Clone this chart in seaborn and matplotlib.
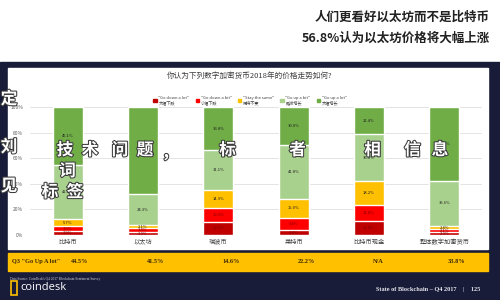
import numpy as np
import pandas as pd
import seaborn as sns
import matplotlib.pyplot as plt
import matplotlib.patheffects as pe
from matplotlib.patches import Rectangle, Patch
from matplotlib.transforms import blended_transform_factory

# ---- data ----
coins = ['比特币', '以太坊', '瑞波币', '莱特币', '比特币现金', '整体数字加密货币']
down_lot = [2.9, 2.0, 10.3, 3.8, 10.8, 2.3]
down_bit = [3.9, 3.4, 10.5, 9.4, 12.8, 2.1]
same = [5.7, 2.1, 14.3, 15.0, 18.2, 2.4]
up_bit = [42.4, 24.3, 31.1, 41.8, 36.8, 35.6]
up_lot = [45.1, 68.2, 33.8, 30.0, 21.4, 57.6]
q3_up_lot = ['44.5%', '41.5%', '14.6%', '22.2%', 'N/A', '33.8%']

layers = ['"Go down a lot"', '"Go down a bit"', '"Stay the same"', '"Go up a bit"', '"Go up a lot"']
layers_cn = ['大幅下跌', '小幅下跌', '保持不变', '略微增长', '大幅增长']
colors = ['#c00000', '#ff0000', '#ffc000', '#a9d18e', '#70ad47']
navy = '#181c38'

sns.set_theme(style='white')
plt.rcParams['font.family'] = ['Noto Sans CJK SC', 'DejaVu Sans']

df = pd.DataFrame({'coin': coins, 'l0': down_lot, 'l1': down_bit, 'l2': same,
                   'l3': up_bit, 'l4': up_lot})
cols = ['l0', 'l1', 'l2', 'l3', 'l4']
cum = df[cols].cumsum(axis=1)

fig = plt.figure(figsize=(5, 3), dpi=100)
fig.patch.set_facecolor('white')
# dark frame, white panel, yellow table row
fig.patches.append(Rectangle((0, 0), 1, 0.793, transform=fig.transFigure, color=navy, zorder=0))
fig.patches.append(Rectangle((0.016, 0.17), 0.96, 0.603, transform=fig.transFigure, color='white', zorder=0))
fig.patches.append(Rectangle((0.016, 0.097), 0.96, 0.06, transform=fig.transFigure, color='#ffc000', zorder=0))

ax = fig.add_axes([0.06, 0.2167, 0.904, 0.4267])
ax.set_zorder(5)
ax.set_facecolor('none')

# stacked bars: draw the cumulative totals from the top layer down
for i in range(4, -1, -1):
    sns.barplot(x=df['coin'], y=cum[cols[i]], color=colors[i], width=0.4,
                saturation=1, ax=ax, zorder=2)

for i, c in enumerate(cols):
    bottoms = cum[c] - df[c]
    for j, v in enumerate(df[c]):
        tc = '#7a0000' if i < 2 else '#222222'
        ax.text(j, bottoms[j] + v / 2, '%.1f%%' % v, ha='center', va='center',
                fontsize=3, color=tc, zorder=3)

ax.set_ylim(0, 100)
ax.set_xlim(-0.5, 5.5)
ax.set_yticks([0, 20, 40, 60, 80, 100])
ax.set_yticklabels(['0%', '20%', '40%', '60%', '80%', '100%'])
ax.yaxis.grid(True, color='#d9d9d9', linewidth=0.5, zorder=0)
ax.set_axisbelow(True)
ax.tick_params(axis='y', labelsize=3.5, colors='#595959', length=0, pad=5)
ax.tick_params(axis='x', labelsize=4.5, colors='#404040', length=0, pad=2)
ax.set_xlabel('')
ax.set_ylabel('')
for s in ax.spines.values():
    s.set_visible(False)

# legend
handles = [Patch(color=colors[i]) for i in range(5)]
labels = [layers[i] + '\n' + layers_cn[i] for i in range(5)]
fig.legend(handles, labels, loc='center', bbox_to_anchor=(0.5, 0.665), ncol=5,
           fontsize=3, frameon=False, handlelength=0.8, handleheight=0.8,
           columnspacing=1.5, handletextpad=0.4, labelcolor='#404040')

# titles
fig.text(0.5, 0.748, '你认为下列数字加密货币2018年的价格走势如何?', ha='center', va='center',
         fontsize=5.5, color='#404040')
fig.text(0.98, 0.943, '人们更看好以太坊而不是比特币', ha='right', va='center',
         fontsize=9, fontweight='bold', color='#222222')
fig.text(0.98, 0.873, '56.8%认为以太坊价格将大幅上涨', ha='right', va='center',
         fontsize=9, fontweight='bold', color='#222222')

# Q3 table row
tr = blended_transform_factory(ax.transData, fig.transFigure)
fig.text(0.024, 0.127, 'Q3 "Go Up A lot"', ha='left', va='center', fontsize=4.5,
         fontweight='bold', family='Liberation Serif', color='#3a2800')
for j, t in enumerate(q3_up_lot):
    ax.text(j + 0.05, 0.127, t, transform=tr, ha='left', va='center', fontsize=4.5,
            fontweight='bold', family='Liberation Serif', color='#3a2800')

# footer
fig.text(0.02, 0.07, "Data Source: CoinDesk's Q4 2017 Blockchain Sentiment Survey", ha='left',
         va='center', fontsize=2.5, family='Liberation Serif', color='#cfd0d8')
fig.patches.append(Rectangle((0.022, 0.018), 0.012, 0.045, transform=fig.transFigure,
                             facecolor='none', edgecolor='#ffc000', linewidth=1.2, zorder=1))
fig.text(0.04, 0.04, 'coindesk', ha='left', va='center', fontsize=8, family='Open Sans',
         color='white')
fig.text(0.96, 0.035, 'State of Blockchain – Q4 2017    |    125', ha='right', va='center',
         fontsize=4.5, fontweight='bold', family='Liberation Serif', color='#e6e6ee')

# watermark characters over the chart
wm = [('技', 0.13, 0.5), ('术', 0.18, 0.5), ('问', 0.24, 0.5), ('题', 0.29, 0.5),
      ('，', 0.34, 0.49), ('标', 0.455, 0.5), ('者', 0.595, 0.5), ('相', 0.745, 0.5),
      ('信', 0.825, 0.5), ('息', 0.88, 0.5), ('词', 0.135, 0.43), ('标', 0.1, 0.36),
      ('签', 0.15, 0.36), ('定', 0.018, 0.67), ('刘', 0.018, 0.51), ('见', 0.018, 0.38)]
for ch, x, y in wm:
    fig.text(x, y, ch, ha='center', va='center', fontsize=12, fontweight='bold',
             color='white', zorder=10,
             path_effects=[pe.withStroke(linewidth=1.5, foreground='#3a3a3a')])

fig.savefig('out.png', dpi=100)
